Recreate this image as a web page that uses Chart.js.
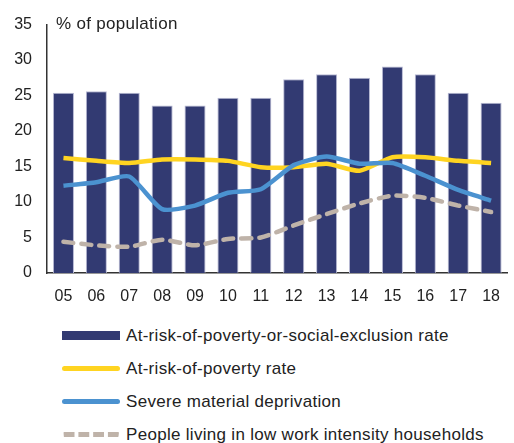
<!DOCTYPE html>
<html>
<head>
<meta charset="utf-8">
<script src="https://cdn.jsdelivr.net/npm/chart.js@4.4.1/dist/chart.umd.min.js"></script>
<style>
  body { margin: 0; background: #fff; font-family: "Liberation Sans", Arial, sans-serif; }
  #wrap { position: relative; width: 514px; height: 310px; }
  #unit { position: absolute; left: 56px; top: 14px; font-size: 17px; letter-spacing: 0.3px; color: #222; }
  #legend { margin: 9px 0 0 62px; }
  .item { display: flex; align-items: center; height: 33px; font-size: 17px; letter-spacing: 0.3px; color: #222; }
  .swatch { width: 58px; height: 0; margin-right: 6px; }
</style>
</head>
<body>
<div id="wrap">
  <canvas id="povertyChart" width="514" height="310"></canvas>
  <div id="unit">% of population</div>
</div>
<div id="legend"></div>

<script>
var years = ['05', '06', '07', '08', '09', '10', '11', '12', '13', '14', '15', '16', '17', '18'];
var arope = [25.4, 25.6, 25.4, 23.6, 23.6, 24.7, 24.7, 27.3, 28.0, 27.5, 29.1, 28.0, 25.4, 24.0];
var povertyRate = [16.2, 15.8, 15.5, 16.0, 16.0, 15.8, 14.9, 14.9, 15.4, 14.4, 16.3, 16.3, 15.8, 15.5];
var deprivation = [12.3, 12.8, 13.6, 9.0, 9.5, 11.3, 11.8, 15.2, 16.4, 15.4, 15.5, 13.7, 11.7, 10.2];
var lowWork = [4.4, 3.9, 3.7, 4.7, 3.9, 4.8, 5.0, 6.7, 8.3, 9.8, 10.9, 10.6, 9.5, 8.6];
var yTicks = [0, 5, 10, 15, 20, 25, 30, 35];

var ctx = document.getElementById('povertyChart').getContext('2d');
var chart = new Chart(ctx, {
  type: 'bar',
  data: {
    labels: years,
    datasets: [
      {
        type: 'line', label: 'People living in low work intensity households', data: lowWork,
        borderColor: '#bfb3a9', borderWidth: 4.5, borderDash: [10, 8], borderCapStyle: 'round',
        pointRadius: 0, tension: 0.2, fill: false, order: 1
      },
      {
        type: 'line', label: 'Severe material deprivation', data: deprivation,
        borderColor: '#4b92d0', borderWidth: 4.5, pointRadius: 0, tension: 0.2, fill: false, order: 2
      },
      {
        type: 'line', label: 'At-risk-of-poverty rate', data: povertyRate,
        borderColor: '#ffd421', borderWidth: 4.5, pointRadius: 0, tension: 0.2, fill: false, order: 3
      },
      {
        label: 'At-risk-of-poverty-or-social-exclusion rate', data: arope,
        backgroundColor: '#323a72', borderColor: '#b8bad4', borderWidth: 1,
        categoryPercentage: 1, barPercentage: 0.64, order: 4
      }
    ]
  },
  options: {
    responsive: false,
    animation: false,
    layout: { padding: { top: 22, right: 0, left: 0, bottom: 0 } },
    plugins: { legend: { display: false }, tooltip: { enabled: false } },
    scales: {
      x: {
        grid: { display: false, drawTicks: false },
        border: { color: '#333', width: 1.5 },
        ticks: { color: '#222', font: { size: 16, family: 'Liberation Sans' }, padding: 14 },
        afterFit: function(scale) { scale.height = 37; }
      },
      y: {
        min: 0, max: 35,
        afterBuildTicks: function(scale) { scale.ticks = yTicks.map(function(v) { return { value: v }; }); },
        grid: { display: false, drawTicks: false },
        border: { color: '#333', width: 1.5 },
        ticks: { color: '#222', font: { size: 16, family: 'Liberation Sans' }, padding: 15 },
        afterFit: function(scale) { scale.width = 47; }
      }
    }
  }
});

// legend rows, in the order they are listed under the chart
var legendOrder = [3, 2, 1, 0];
var legend = document.getElementById('legend');
legendOrder.forEach(function(i) {
  var ds = chart.data.datasets[i];
  var row = document.createElement('div');
  row.className = 'item';
  var sw = document.createElement('span');
  sw.className = 'swatch';
  if (ds.type === 'line') {
    sw.style.borderTop = '5px ' + (ds.borderDash ? 'dashed ' : 'solid ') + ds.borderColor;
    sw.style.borderRadius = '3px';
  } else {
    sw.style.height = '9px';
    sw.style.background = ds.backgroundColor;
  }
  row.appendChild(sw);
  row.appendChild(document.createTextNode(ds.label));
  legend.appendChild(row);
});
</script>
</body>
</html>
